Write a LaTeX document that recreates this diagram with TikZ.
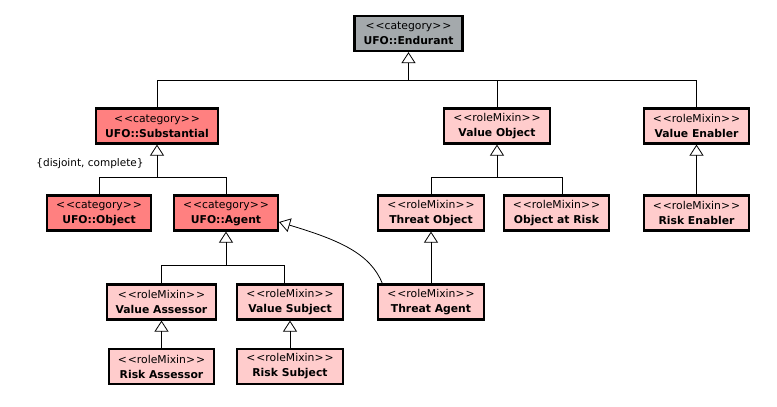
\documentclass[tikz,border=0pt]{standalone}
\usepackage{fontspec}
\setmainfont{DejaVu Sans}
\usetikzlibrary{arrows.meta}
\definecolor{catgray}{HTML}{A4A9AC}
\definecolor{catred}{HTML}{FF8080}
\definecolor{rolepink}{HTML}{FFCCCC}
\newcommand{\stereo}[1]{<\kern1pt<#1>\kern1pt>}
\tikzset{
  cls/.style={draw, line width=2.2pt, align=center, font=\fontsize{10.8}{15}\selectfont,
    inner xsep=9pt, inner ysep=1pt, minimum height=35pt},
  gen/.style={-{Triangle[open, length=11pt, width=14pt]}, line width=0.8pt},
  tie/.style={line width=0.8pt},
}

\begin{document}
\begin{tikzpicture}[x=1pt, y=-1pt]
  \useasboundingbox (0,0) rectangle (777,407);
  % Categories
  \node[cls, fill=catgray] (end) at (408.5, 33.5) {\stereo{category}\\\textbf{UFO::Endurant}};
  \node[cls, fill=catred] (sub) at (157, 126) {\stereo{category}\\\textbf{UFO::Substantial}};
  \node[cls, fill=catred] (obj) at (99, 213) {\stereo{category}\\\textbf{UFO::Object}};
  \node[cls, fill=catred] (agt) at (226, 213) {\stereo{category}\\\textbf{UFO::Agent}};

  % Role mixins
  \node[cls, fill=rolepink] (vo) at (497, 126) {\stereo{roleMixin}\\\textbf{Value Object}};
  \node[cls, fill=rolepink] (ve) at (696.5, 126) {\stereo{roleMixin}\\\textbf{Value Enabler}};
  \node[cls, fill=rolepink] (to) at (431, 213) {\stereo{roleMixin}\\\textbf{Threat Object}};
  \node[cls, fill=rolepink] (oar) at (556.5, 213) {\stereo{roleMixin}\\\textbf{Object at Risk}};
  \node[cls, fill=rolepink] (re) at (696.5, 213) {\stereo{roleMixin}\\\textbf{Risk Enabler}};
  \node[cls, fill=rolepink] (va) at (161.5, 302) {\stereo{roleMixin}\\\textbf{Value Assessor}};
  \node[cls, fill=rolepink] (vs) at (290, 302) {\stereo{roleMixin}\\\textbf{Value Subject}};
  \node[cls, fill=rolepink] (ta) at (431, 302) {\stereo{roleMixin}\\\textbf{Threat Agent}};
  \node[cls, fill=rolepink] (ra) at (161.5, 366.5) {\stereo{roleMixin}\\\textbf{Risk Assessor}};
  \node[cls, fill=rolepink] (rs) at (290, 366.5) {\stereo{roleMixin}\\\textbf{Risk Subject}};

  % Generalization sets
  \coordinate (jend) at (408.5, 80);
  \draw[gen] (jend) -- (end);
  \draw[tie] (sub) |- (jend);
  \draw[tie] (vo) |- (jend);
  \draw[tie] (ve) |- (jend);

  \coordinate (jsub) at (157, 177);
  \draw[gen] (jsub) -- (sub);
  \draw[tie] (obj) |- (jsub);
  \draw[tie] (agt) |- (jsub);
  \node[font=\fontsize{10.5}{12}\selectfont] (dc) at (90, 164) {\{disjoint, complete\}};

  \coordinate (jvo) at (497, 177);
  \draw[gen] (jvo) -- (vo);
  \draw[tie] (to) |- (jvo);
  \draw[tie] ([xshift=5.5pt]oar.north) |- (jvo);

  \coordinate (jagt) at (226, 265);
  \draw[gen] (jagt) -- (agt);
  \draw[tie] (va) |- (jagt);
  \draw[tie] ([xshift=-6pt]vs.north) |- (jagt);

  % Single parents
  \draw[gen] (ra) -- (va);
  \draw[gen] (rs) -- (vs);
  \draw[gen] (ta) -- (to);
  \draw[gen] (re) -- (ve);
  \draw[gen] ([xshift=5pt]ta.north west) .. controls +(-12,-30) and +(60,18) .. ([yshift=-9pt]agt.east);
\end{tikzpicture}
\end{document}
